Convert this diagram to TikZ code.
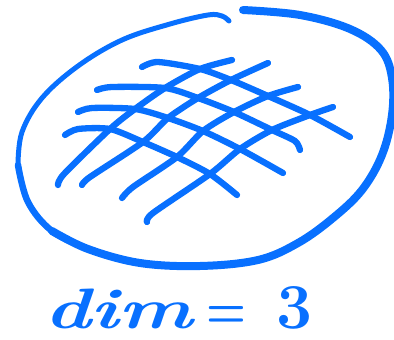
\documentclass[tikz,border=0pt]{standalone}
\definecolor{ink}{RGB}{8,112,255}
\tikzset{
  pen/.style={draw=ink, line cap=round, line join=round},
  gridline/.style={pen, line width=6.3pt},
  hand/.style={text=ink, font=\fontsize{57}{57}\selectfont\bfseries, inner sep=0pt}
}
\begin{document}
\begin{tikzpicture}[x=1pt,y=-1pt]
\useasboundingbox (0,0) rectangle (394,340);
% outer blob, right and bottom (heavier stroke)
\draw[pen, line width=8pt] plot[smooth, tension=0.6] coordinates {
 (243,10) (300,15) (350,29) (381,50) (392,78) (392,115) (382,155) (362,190)
 (333,218) (298,243) (258,260) (200,266) (140,263) (88,249) (52,231)};
\draw[pen, line width=6.5pt] plot[smooth, tension=0.6] coordinates {
 (88,249) (52,231) (28,202) (18,165)};
% outer blob, left and top (lighter stroke)
\draw[pen, line width=5pt] plot[smooth, tension=0.6] coordinates {
 (18,165) (22,132) (42,98) (78,66) (122,40) (170,24) (208,15) (222,16) (229,21)};
% grid: lines running to the lower right
\draw[gridline] plot[smooth, tension=0.45] coordinates {(142,67) (158,62) (200,69) (231,80) (268,96) (310,115) (350,137)};
\draw[gridline] plot[smooth, tension=0.45] coordinates {(97,90) (112,87) (165,88) (198,98) (234,112) (272,130) (295,141) (300,150)};
\draw[gridline] plot[smooth, tension=0.45] coordinates {(78,112) (92,108) (135,109) (168,118) (203,131) (240,149) (283,173)};
\draw[gridline] plot[smooth, tension=0.45] coordinates {(65,135) (78,129) (110,129) (143,142) (177,157) (210,174) (237,195)};
% grid: lines running to the upper right
\draw[gridline] plot[smooth, tension=0.45] coordinates {(58,185) (64,174) (110,129) (135,109) (165,88) (200,69) (232,60)};
\draw[gridline] plot[smooth, tension=0.45] coordinates {(82,185) (90,177) (143,142) (168,118) (198,98) (231,80) (268,63)};
\draw[gridline] plot[smooth, tension=0.45] coordinates {(122,198) (133,187) (177,157) (203,131) (234,112) (268,96) (298,87)};
\draw[gridline] plot[smooth, tension=0.45] coordinates {(147,222) (153,213) (210,174) (240,149) (272,130) (310,115) (333,107)};
% label
\node[hand, anchor=base west] (label) at (44,328)
  {\scalebox{1.38}[1]{\itshape dim}\hspace{14pt}\scalebox{0.8}[1]{=}\hspace{30pt}{\fontsize{64}{64}\selectfont 3}};
\end{tikzpicture}
\end{document}
